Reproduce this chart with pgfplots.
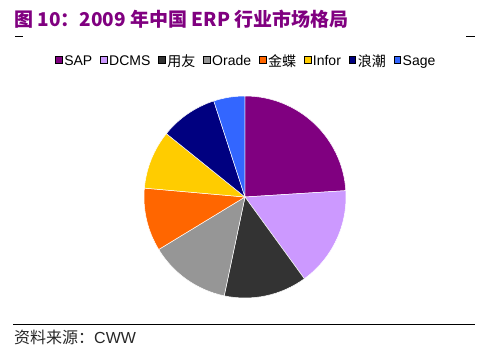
\documentclass[border=0pt]{standalone}
\usepackage{pgfplots}
\pgfplotsset{compat=1.18}
\usepackage{pgfplotstable}
\usepackage{fontspec}
\setmainfont{Liberation Sans}
\newfontfamily\cjk{Noto Sans CJK SC}
\definecolor{titlec}{RGB}{128,0,128}
\definecolor{c0}{RGB}{128,0,128}
\definecolor{c1}{RGB}{204,153,255}
\definecolor{c2}{RGB}{51,51,51}
\definecolor{c3}{RGB}{150,150,150}
\definecolor{c4}{RGB}{255,102,0}
\definecolor{c5}{RGB}{255,204,0}
\definecolor{c6}{RGB}{0,0,128}
\definecolor{c7}{RGB}{51,102,255}
\pgfplotstableread{
name value
SAP 24.0
DCMS 16.0
Yonyou 13.3
Orade 13.0
Kingdee 10.1
Infor 9.4
Inspur 9.2
Sage 5.0
}\pietable
\begin{document}
\begin{tikzpicture}
\useasboundingbox (0pt,0pt) rectangle (488pt,357pt);
\xdef\cum{0}
\foreach \i in {0,...,7}{%
  \pgfplotstablegetelem{\i}{value}\of\pietable
  \pgfmathsetmacro\a{90-3.6*\cum}%
  \pgfmathsetmacro\b{90-3.6*(\cum+\pgfplotsretval)}%
  \pgfmathsetmacro\c{\cum+\pgfplotsretval}%
  \expandafter\xdef\csname pieA\i\endcsname{\a}%
  \expandafter\xdef\csname pieB\i\endcsname{\b}%
  \xdef\cum{\c}%
}
\node[anchor=west, text=titlec, font=\cjk\bfseries\fontsize{19}{21}\selectfont, inner sep=0pt] at (14pt,338pt) {图 10：2009 年中国 ERP 行业市场格局};
\draw[line width=1pt] (15pt,320pt) -- (23pt,320pt);
\draw[line width=1pt] (466pt,320pt) -- (475pt,320pt);
\begin{axis}[at={(245pt,160pt)}, anchor=center, x=1pt, y=1pt,
  xmin=-101, xmax=101, ymin=-101, ymax=101, hide axis, clip=false,
  legend image code/.code={\fill[#1] (0pt,-2pt) rectangle (6.5pt,4.5pt);},
  legend columns=-1,
  legend style={at={(0.507,1.173)}, anchor=center, draw=none, fill=none,
    font=\fontsize{14}{16}\selectfont, inner sep=0pt,
    nodes={inner xsep=2pt, inner ysep=1pt},
    /tikz/every even column/.append style={column sep=6pt}}]
\addlegendimage{fill=c0}\addlegendentry{SAP}
\addlegendimage{fill=c1}\addlegendentry{DCMS}
\addlegendimage{fill=c2}\addlegendentry{{\cjk 用友}}
\addlegendimage{fill=c3}\addlegendentry{Orade}
\addlegendimage{fill=c4}\addlegendentry{{\cjk 金蝶}}
\addlegendimage{fill=c5}\addlegendentry{Infor}
\addlegendimage{fill=c6}\addlegendentry{{\cjk 浪潮}}
\addlegendimage{fill=c7}\addlegendentry{Sage}
\pgfplotsinvokeforeach{0,...,7}{
  \fill[c#1, draw=white, line width=0.5pt] (axis cs:0,0) -- ([shift={(\csname pieA#1\endcsname:101pt)}]axis cs:0,0) arc[start angle=\csname pieA#1\endcsname, end angle=\csname pieB#1\endcsname, radius=101pt] -- cycle;
}
\end{axis}
\draw[line width=1pt] (13pt,33pt) -- (475pt,33pt);
\node[anchor=west, font=\fontsize{16}{18}\selectfont, text=black!85, inner sep=0pt] at (14pt,20pt) {{\cjk 资料来源：}CWW};
\end{tikzpicture}
\end{document}
